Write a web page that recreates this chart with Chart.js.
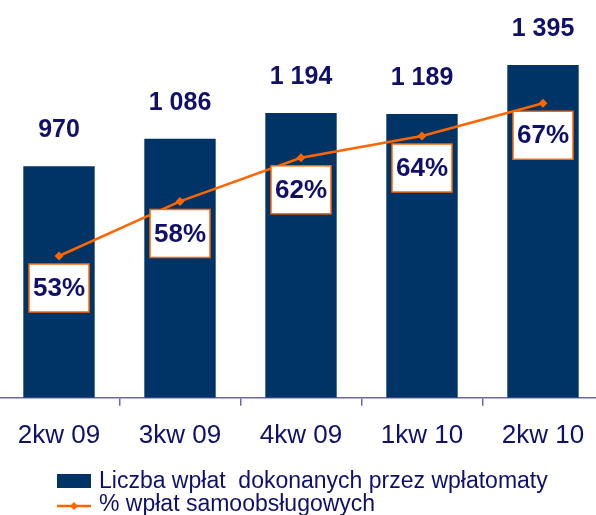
<!DOCTYPE html>
<html>
<head>
<meta charset="utf-8">
<script src="https://cdn.jsdelivr.net/npm/chart.js@4.4.0/dist/chart.umd.min.js"></script>
<style>
  html, body { margin: 0; padding: 0; background: #fff; overflow: hidden; }
  #wrap { position: absolute; left: -6px; top: 0; width: 614px; height: 515px; }
</style>
</head>
<body>
<div id="wrap"><canvas id="chart" width="614" height="515"></canvas></div>
<script>
const categories = ['2kw 09', '3kw 09', '4kw 09', '1kw 10', '2kw 10'];
const depositCounts = [970, 1086, 1194, 1189, 1395];
const selfServicePct = [53, 58, 62, 64, 67];
const seriesLabels = ['Liczba wpłat  dokonanych przez wpłatomaty', '% wpłat samoobsługowych'];

const NAVY = '#003366';
const ORANGE = '#ff6600';
const TEXT = '#10106a';
const AXIS = '#6a6aa2';
const FONT = 'Arial, "Liberation Sans", sans-serif';

function spaced(n) {
  return String(n).replace(/\B(?=(\d{3})+(?!\d))/g, ' ');
}

// value labels above bars + boxed percentages under the line points
const labelsPlugin = {
  id: 'labels',
  afterDatasetsDraw(chart) {
    const ctx = chart.ctx;
    ctx.save();
    const bars = chart.getDatasetMeta(1).data;
    ctx.fillStyle = TEXT;
    ctx.font = 'bold 25px ' + FONT;
    ctx.textAlign = 'center';
    ctx.textBaseline = 'alphabetic';
    bars.forEach((b, i) => {
      ctx.fillText(spaced(depositCounts[i]), b.x, b.y - 29);
    });

    const pts = chart.getDatasetMeta(0).data;
    pts.forEach((p, i) => {
      const w = 60, h = 48;
      const x0 = p.x - w / 2, y0 = p.y + 8;
      ctx.fillStyle = '#fff';
      ctx.fillRect(x0, y0, w, h);
      ctx.strokeStyle = ORANGE;
      ctx.lineWidth = 1.5;
      ctx.strokeRect(x0, y0, w, h);
      ctx.fillStyle = TEXT;
      ctx.font = 'bold 26px ' + FONT;
      ctx.textBaseline = 'middle';
      ctx.fillText(selfServicePct[i] + '%', p.x, y0 + h / 2 + 1);
    });
    ctx.restore();
  }
};

// legend drawn under the axis, two rows, left aligned
const legendPlugin = {
  id: 'bottomLegend',
  afterDraw(chart) {
    const ctx = chart.ctx;
    const x = 63;
    ctx.save();
    ctx.font = '23px ' + FONT;
    ctx.textAlign = 'left';
    ctx.textBaseline = 'alphabetic';
    // row 1: bar series
    ctx.fillStyle = chart.data.datasets[1].backgroundColor;
    ctx.fillRect(x, 474, 34, 14);
    ctx.fillStyle = TEXT;
    ctx.fillText(chart.data.datasets[1].label, x + 42, 488);
    // row 2: line series
    ctx.strokeStyle = chart.data.datasets[0].borderColor;
    ctx.lineWidth = 2.5;
    ctx.beginPath();
    ctx.moveTo(x, 506);
    ctx.lineTo(x + 34, 506);
    ctx.stroke();
    ctx.fillStyle = ORANGE;
    ctx.beginPath();
    ctx.moveTo(x + 17, 502);
    ctx.lineTo(x + 21, 506);
    ctx.lineTo(x + 17, 510);
    ctx.lineTo(x + 13, 506);
    ctx.closePath();
    ctx.fill();
    ctx.fillStyle = TEXT;
    ctx.fillText(chart.data.datasets[0].label, x + 42, 511);
    ctx.restore();
  }
};

new Chart(document.getElementById('chart'), {
  data: {
    labels: categories,
    datasets: [
      {
        type: 'line',
        label: seriesLabels[1],
        data: selfServicePct,
        yAxisID: 'pct',
        borderColor: ORANGE,
        backgroundColor: ORANGE,
        borderWidth: 2.5,
        pointStyle: 'rectRot',
        pointRadius: 4.5,
        pointBackgroundColor: ORANGE,
        pointBorderWidth: 0,
        tension: 0,
        order: 0
      },
      {
        type: 'bar',
        label: seriesLabels[0],
        data: depositCounts,
        yAxisID: 'count',
        backgroundColor: NAVY,
        borderWidth: 0,
        categoryPercentage: 1,
        barPercentage: 0.59,
        order: 1
      }
    ]
  },
  options: {
    responsive: false,
    animation: false,
    layout: { padding: { top: 16, bottom: 50, left: 0, right: 0 } },
    plugins: {
      legend: { display: false },
      tooltip: { enabled: false }
    },
    scales: {
      x: {
        offset: true,
        grid: { display: true, drawOnChartArea: false, offset: true, tickLength: 8, color: AXIS, lineWidth: 1.5 },
        border: { display: true, color: AXIS, width: 1.5 },
        ticks: { color: TEXT, font: { family: FONT, size: 26 }, padding: 14 }
      },
      count: { display: false, min: 0, max: 1600 },
      pct: { display: false, min: 40, max: 75 }
    }
  },
  plugins: [labelsPlugin, legendPlugin]
});
</script>
</body>
</html>
